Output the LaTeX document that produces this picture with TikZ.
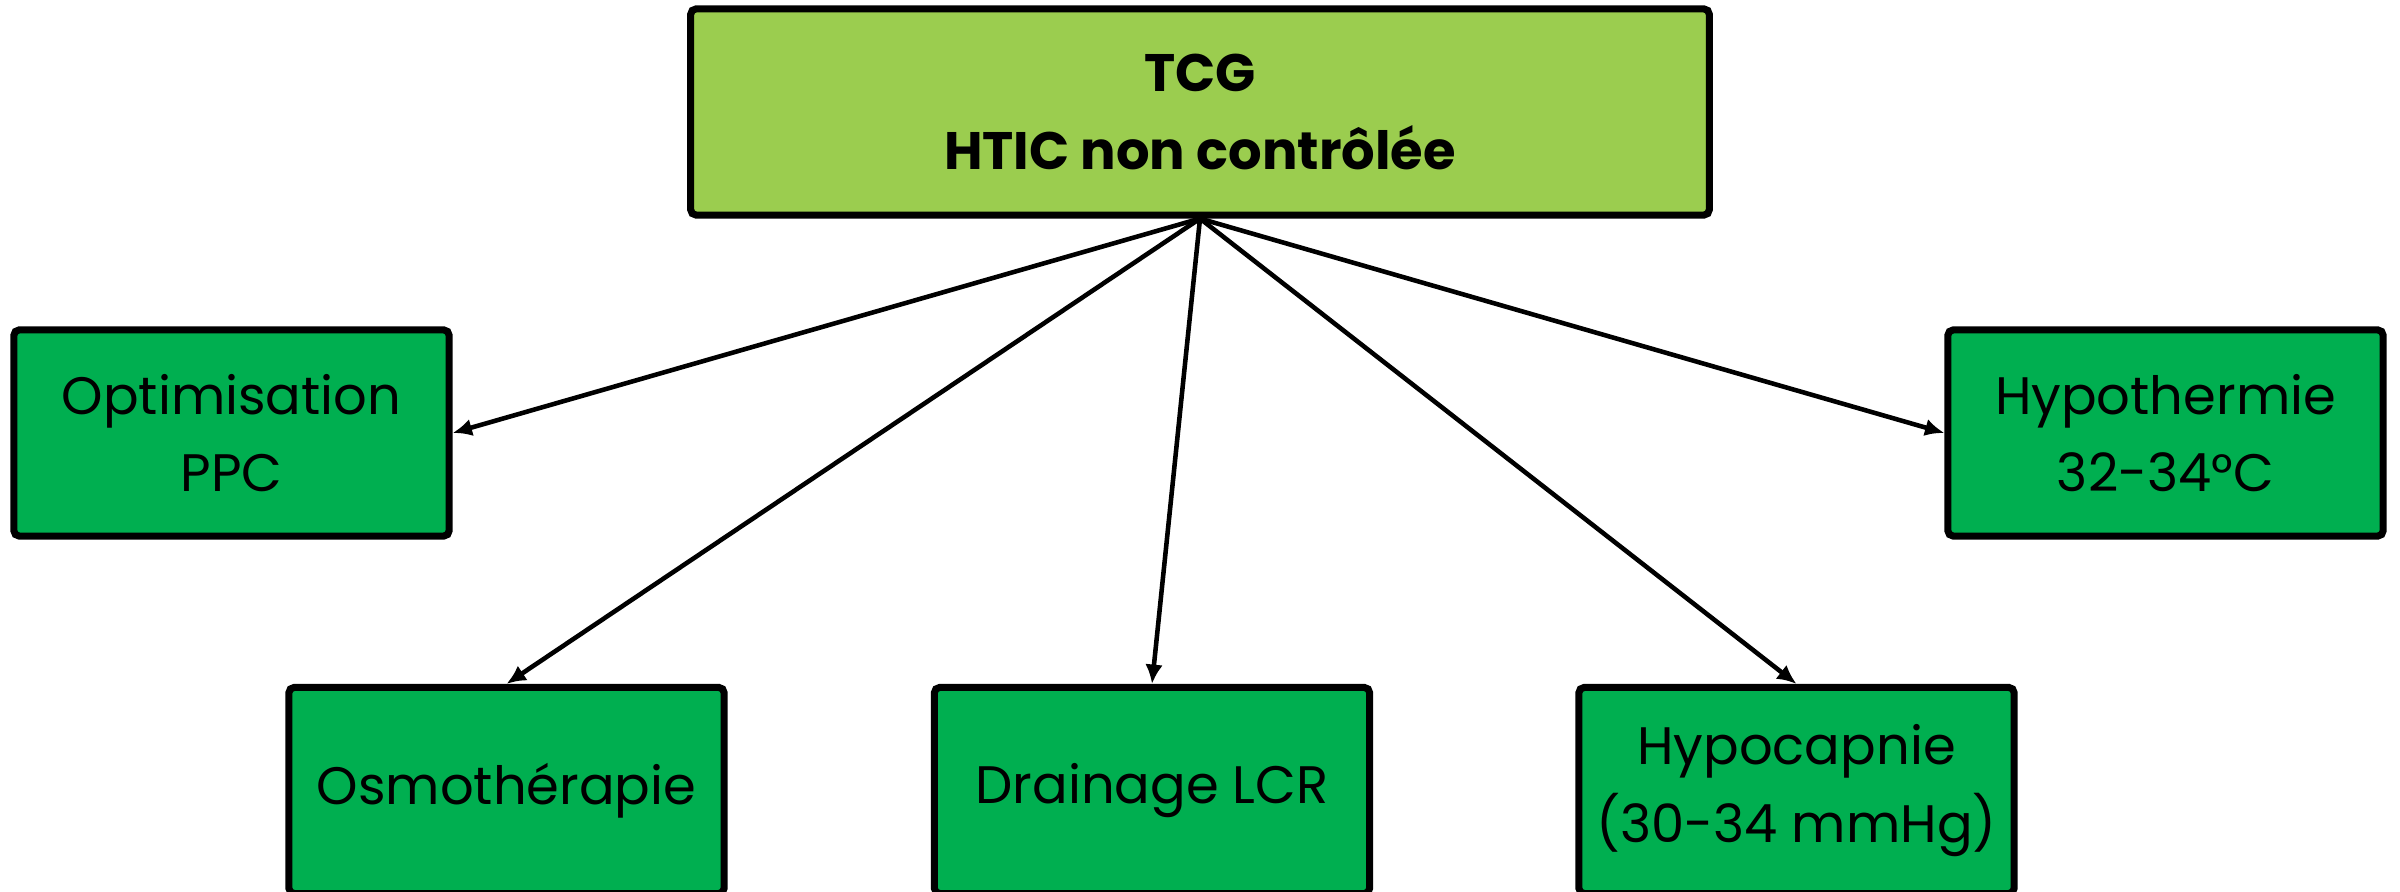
\documentclass[tikz,border=0pt]{standalone}
\usepackage{fontspec}
\setmainfont{Poppins}
\usetikzlibrary{arrows.meta}
\definecolor{topgreen}{HTML}{9BCD4F}
\definecolor{boxgreen}{HTML}{00AF50}
\tikzset{
  box/.style={draw=black, line width=2pt, rounded corners=1.5pt, fill=boxgreen,
    minimum width=4.35cm, minimum height=2.06cm, align=center, inner sep=0pt,
    font=\fontsize{15}{22}\selectfont},
  topbox/.style={box, fill=topgreen, minimum width=10.18cm, minimum height=2.06cm,
    font=\fontsize{15}{22}\selectfont\bfseries},
  link/.style={line width=1.3pt, -{Latex[length=5.5pt,width=5pt]}}
}
\begin{document}
\begin{tikzpicture}[x=0.01cm, y=-0.01cm]
\useasboundingbox (0,0) rectangle (2400,892);
\begin{scope}
\clip (0,0) rectangle (2400,892);
\node[topbox] (top) at (1200,112) {TCG\\HTIC non contrôlée};
\node[box] (opt) at (231.5,433) {Optimisation\\PPC};
\node[box] (hyt) at (2165.5,433) {Hypothermie\\32-34°C};
\node[box] (osm) at (506.5,790.5) {Osmothérapie};
\node[box] (dra) at (1152,790.5) {Drainage LCR};
\node[box] (hyc) at (1796.5,790.5) {Hypocapnie\\(30-34 mmHg)};
\draw[link] (top.south) -- (opt.east);
\draw[link] (top.south) -- (osm.north);
\draw[link] (top.south) -- (dra.north);
\draw[link] (top.south) -- (hyc.north);
\draw[link] (top.south) -- (hyt.west);
\end{scope}
\end{tikzpicture}
\end{document}
